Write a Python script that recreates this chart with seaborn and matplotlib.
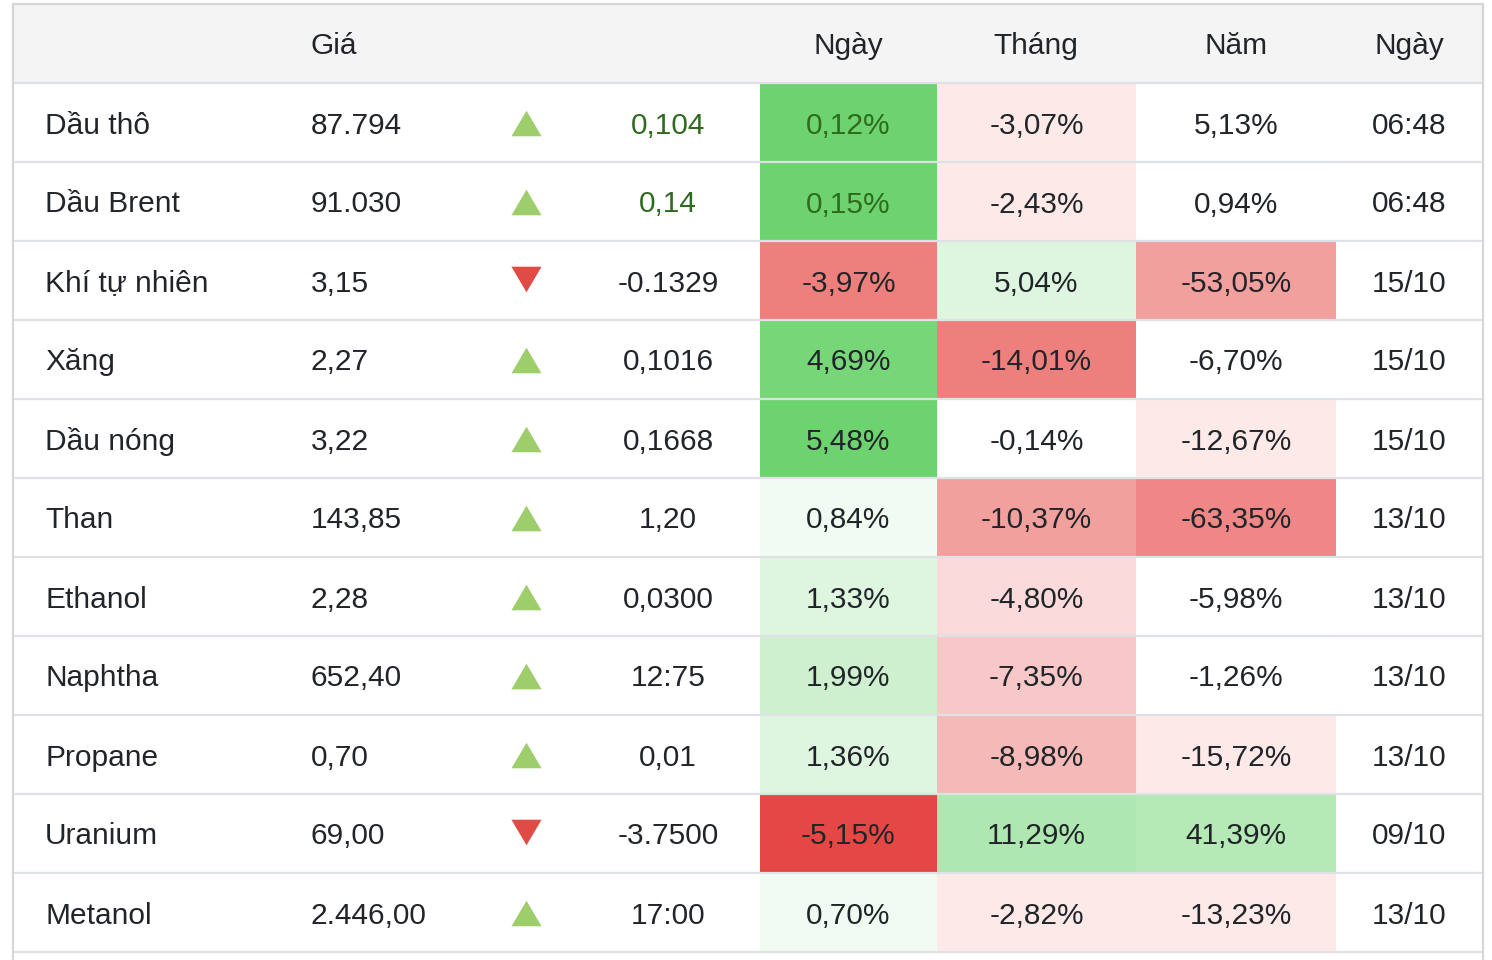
import numpy as np
import pandas as pd
import seaborn as sns
import matplotlib.pyplot as plt
from matplotlib.colors import LinearSegmentedColormap

names = ["Dầu thô", "Dầu Brent", "Khí tự nhiên", "Xăng", "Dầu nóng", "Than",
         "Ethanol", "Naphtha", "Propane", "Uranium", "Metanol"]
prices = ["87.794", "91.030", "3,15", "2,27", "3,22", "143,85",
          "2,28", "652,40", "0,70", "69,00", "2.446,00"]
changes = ["0,104", "0,14", "-0.1329", "0,1016", "0,1668", "1,20",
           "0,0300", "12:75", "0,01", "-3.7500", "17:00"]
day_pct = [0.12, 0.15, -3.97, 4.69, 5.48, 0.84, 1.33, 1.99, 1.36, -5.15, 0.70]
month_pct = [-3.07, -2.43, 5.04, -14.01, -0.14, -10.37, -4.80, -7.35, -8.98, 11.29, -2.82]
year_pct = [5.13, 0.94, -53.05, -6.70, -12.67, -63.35, -5.98, -1.26, -15.72, 41.39, -13.23]
dates = ["06:48", "06:48", "15/10", "15/10", "15/10", "13/10",
         "13/10", "13/10", "13/10", "09/10", "13/10"]
# cell shading (-1 = deepest red, +1 = deepest green)
day_shade = [1.0, 1.0, -0.7, 0.93, 1.0, 0.1, 0.22, 0.33, 0.22, -1.0, 0.1]
month_shade = [-0.12, -0.12, 0.22, -0.7, 0.0, -0.52, -0.2, -0.3, -0.38, 0.55, -0.12]
year_shade = [0.0, 0.0, -0.52, 0.0, -0.12, -0.65, 0.0, 0.0, -0.12, 0.5, -0.12]
headers = ["Giá", "Ngày", "Tháng", "Năm", "Ngày"]

W, H = 1492, 960
top, head_h, row_h = 4, 79, 79
left, right = 13, 1483
txt = "#212529"
green_txt = "#2e6b1e"
line_c = "#dee2e6"
fs = 21.5
dy = 3  # text sits a little below the geometric row centre

sns.set_style("white")
plt.rcParams['font.family'] = ['Liberation Sans', 'DejaVu Sans']

cmap = LinearSegmentedColormap.from_list("rg", ["#e54844", "#ffffff", "#6dd36f"])

fig = plt.figure(figsize=(W / 100, H / 100), dpi=100)
bg = fig.add_axes([0, 0, 1, 1])
bg.set_xlim(0, W)
bg.set_ylim(H, 0)
bg.axis("off")

head_bottom = top + head_h
bg.fill_between([left, right], top, head_bottom, color="#f4f4f4", lw=0)
hy = top + head_h / 2 + dy
bg.text(311, hy, headers[0], ha="left", va="center", fontsize=fs, color=txt)
for h, x in zip(headers[1:], [848, 1036, 1236, 1409]):
    bg.text(x, hy, h, ha="center", va="center", fontsize=fs, color=txt)

for i in range(len(names)):
    cy = head_bottom + row_h * (i + 0.5)
    ty = cy + dy
    live = ":" in dates[i]
    bg.text(45, ty, names[i], ha="left", va="center", fontsize=fs, color=txt)
    bg.text(311, ty, prices[i], ha="left", va="center", fontsize=fs, color=txt)
    down = changes[i].startswith("-")
    if down:
        bg.scatter(526, cy - 2, marker=[(-1, 0.85), (1, 0.85), (0, -0.85)],
                   s=470, color="#e04b45", lw=0)
    else:
        bg.scatter(526, cy, marker=[(-1, -0.85), (1, -0.85), (0, 0.85)],
                   s=470, color="#9ecd6c", lw=0)
    bg.text(668, ty, changes[i], ha="center", va="center", fontsize=fs,
            color=green_txt if live else txt)
    bg.text(1409, ty, dates[i], ha="center", va="center", fontsize=fs, color=txt)

# coloured percentage columns drawn as one-column heatmaps
n = len(names)
body_top = head_bottom
body_bot = head_bottom + row_h * n
col_edges = [(760, 937), (937, 1136), (1136, 1336)]
cols = [(day_pct, day_shade), (month_pct, month_shade), (year_pct, year_shade)]
for j, ((x0, x1), (vals, shade)) in enumerate(zip(col_edges, cols)):
    ax = fig.add_axes([x0 / W, 1 - body_bot / H, (x1 - x0) / W, (body_bot - body_top) / H])
    df = pd.DataFrame({"v": shade}, index=names)
    labels = np.array([[f"{v:.2f}%".replace(".", ",")] for v in vals])
    sns.heatmap(df, ax=ax, cmap=cmap, vmin=-1, vmax=1, cbar=False,
                annot=labels, fmt="", annot_kws={"fontsize": fs, "color": txt},
                xticklabels=False, yticklabels=False)
    ax.set_ylabel("")
    ax.set_xlabel("")
    for t, d in zip(ax.texts, dates):
        x, y = t.get_position()
        t.set_position((x, y + dy / row_h))
        if j == 0 and ":" in d:
            t.set_color(green_txt)

# grid lines and border on top
ov = fig.add_axes([0, 0, 1, 1])
ov.set_xlim(0, W)
ov.set_ylim(H, 0)
ov.axis("off")
ov.patch.set_alpha(0)
for k in range(n + 1):
    y = head_bottom + row_h * k
    ov.plot([left, right], [y, y], color=line_c, lw=1.6, solid_capstyle="butt")
ov.plot([left, right], [top, top], color="#d6d6d6", lw=1.6, solid_capstyle="butt")
ov.plot([left, left], [top, H], color="#d6d6d6", lw=1.6)
ov.plot([right, right], [top, H], color="#d6d6d6", lw=1.6)

fig.savefig("out.png", dpi=100, facecolor="white")
